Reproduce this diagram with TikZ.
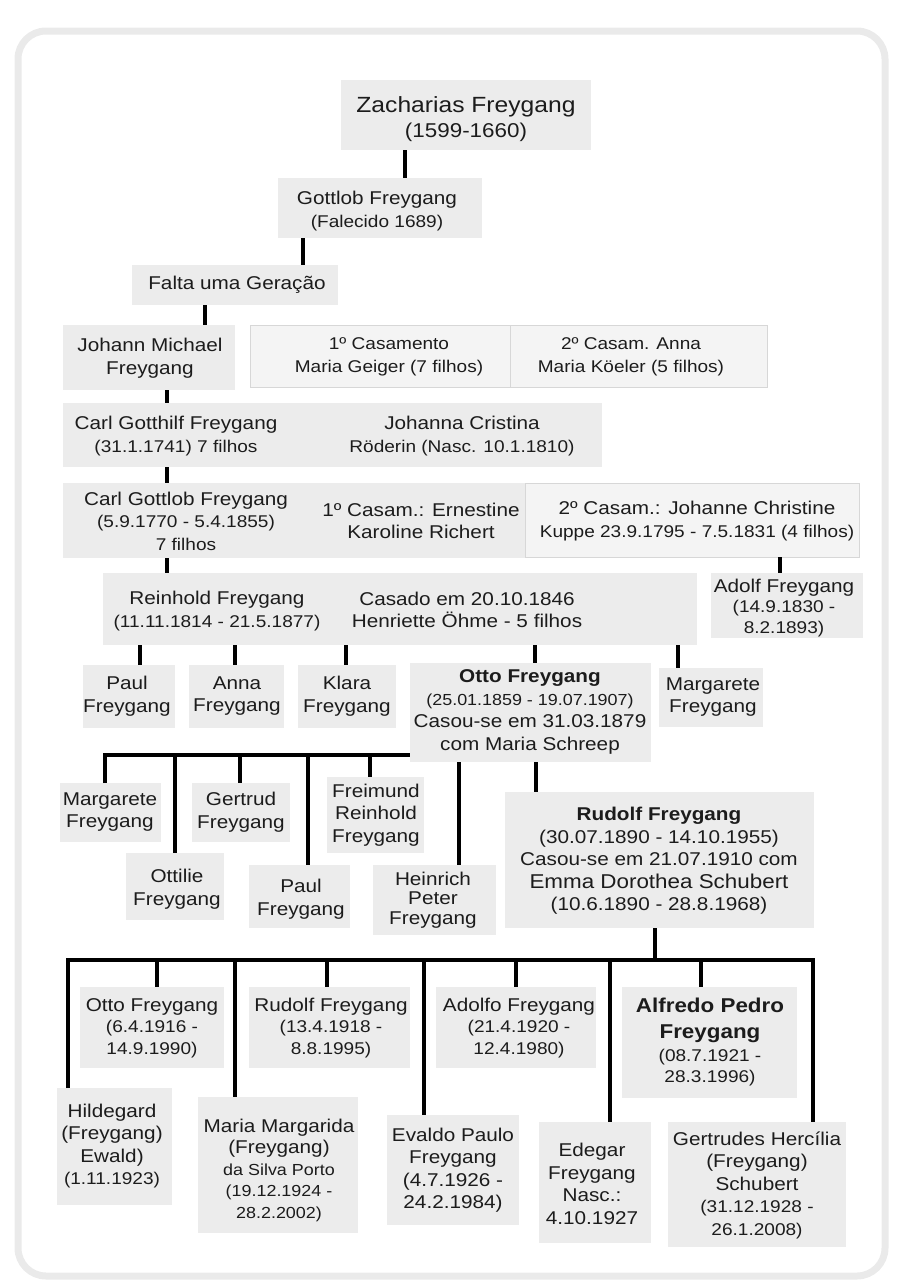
\documentclass[tikz,border=0pt]{standalone}
\usepackage{fontspec}
\setmainfont[FakeStretch=1.12]{Liberation Sans}
\definecolor{boxgray}{RGB}{236,236,236}
\definecolor{spfill}{RGB}{244,244,244}
\definecolor{spline}{RGB}{215,215,215}
\definecolor{framegray}{RGB}{234,234,234}
\definecolor{ink}{RGB}{28,28,28}
\newcommand\nm{\fontsize{18.5}{22.5}\selectfont}
\newcommand\dt{\fontsize{17}{22.5}\selectfont}
\newcommand\sm{\fontsize{16}{22.5}\selectfont}
\tikzset{
  box/.style={fill=boxgray, draw=none, inner sep=0pt, outer sep=0pt},
  spbox/.style={fill=spfill, draw=spline, line width=0.8pt, inner sep=0pt, outer sep=0pt},
  txt/.style={align=center, inner sep=0pt, text=ink, font=\nm},
  conn/.style={draw=black, line width=4pt},
  frame/.style={draw=framegray, line width=7pt, rounded corners=28pt},
}
% style, name, x1, y1, x2, y2, text-x, text-y, text
\newcommand\person[9]{%
  \node[#1, minimum width={#5-#3}, minimum height={#6-#4}] (#2) at ({(#3+#5)/2},{(#4+#6)/2}) {};
  \node[txt] (#2t) at (#7,#8) {#9};}
\begin{document}
\begin{tikzpicture}[x=1pt,y=-1pt]
\useasboundingbox (0,0) rectangle (899,1285);
\draw[frame] (18,31) rectangle (885,1276);

% --- upper generations
\person{box}{zach}{341}{80}{591}{150}{466}{119}{{\fontsize{22}{25}\selectfont Zacharias Freygang}\\[2pt]{\fontsize{20}{25}\selectfont (1599-1660)}}
\person{box}{gott}{278}{178}{482}{238}{377}{211}{Gottlob Freygang\\{\dt (Falecido 1689)}}
\person{box}{falta}{132}{265}{338}{305}{237}{285}{Falta uma Geração}
\person{box}{jm}{63}{325}{235}{390}{150}{358}{Johann Michael\\Freygang}
\person{spbox}{cas1}{250}{325}{510}{387}{389}{357}{{\dt 1º Casamento}\\{\dt Maria Geiger (7 filhos)}}
\person{spbox}{cas2}{510}{325}{767}{387}{631}{357}{{\dt 2º Casam. Anna}\\{\dt Maria Köeler (5 filhos)}}
\person{box}{cgf}{63}{403}{321}{467}{176}{436}{Carl Gotthilf Freygang\\{\dt (31.1.1741) 7 filhos}}
\person{box}{joh}{321}{403}{602}{467}{462}{436}{Johanna Cristina\\{\dt Röderin (Nasc. 10.1.1810)}}
\person{box}{cgl}{63}{483}{321}{558}{186}{521}{Carl Gottlob Freygang\\{\dt (5.9.1770 - 5.4.1855)}\\{\dt 7 filhos}}
\person{box}{cas3}{321}{483}{525}{558}{421}{521}{1º Casam.: Ernestine\\Karoline Richert}
\person{spbox}{cas4}{525}{483}{859}{557}{697}{521}{2º Casam.: Johanne Christine\\{\dt Kuppe 23.9.1795 - 7.5.1831 (4 filhos)}}
\person{box}{rein}{103}{573}{324}{645}{217}{611}{Reinhold Freygang\\{\dt (11.11.1814 - 21.5.1877)}}
\person{box}{casado}{324}{573}{697}{645}{467}{610}{Casado em 20.10.1846\\Henriette Öhme - 5 filhos}
\person{box}{adolf}{711}{573}{863}{638}{784}{608}{Adolf Freygang\\[-2pt]{\dt (14.9.1830 -}\\[-2pt]{\dt 8.2.1893)}}

% --- children of Reinhold
\person{box}{paulA}{83}{665}{175}{728}{127}{696}{Paul\\Freygang}
\person{box}{anna}{189}{665}{284}{728}{237}{696}{Anna\\Freygang}
\person{box}{klara}{298}{665}{396}{728}{347}{696}{Klara\\Freygang}
\person{box}{otto}{410}{663}{651}{762}{530}{712}{\textbf{Otto Freygang}\\{\sm (25.01.1859 - 19.07.1907)}\\Casou-se em 31.03.1879\\com Maria Schreep}
\person{box}{margA}{659}{668}{763}{727}{713}{697}{Margarete\\Freygang}

% --- children of Otto
\person{box}{margB}{60}{783}{161}{842}{110}{812}{Margarete\\Freygang}
\person{box}{ottilie}{126}{853}{224}{920}{177}{889}{Ottilie\\Freygang}
\person{box}{gertrud}{192}{783}{290}{842}{241}{812}{Gertrud\\Freygang}
\person{box}{paulB}{249}{865}{350}{928}{301}{899}{Paul\\Freygang}
\person{box}{freimund}{327}{777}{424}{853}{376}{815}{Freimund\\Reinhold\\Freygang}
\person{box}{heinrich}{373}{865}{496}{935}{433}{900}{Heinrich\\[-3pt]Peter\\[-3pt]Freygang}
\person{box}{rud}{505}{792}{814}{928}{659}{861}{\textbf{Rudolf Freygang}\\(30.07.1890 - 14.10.1955)\\Casou-se em 21.07.1910 com\\{\fontsize{20}{22.5}\selectfont Emma Dorothea Schubert}\\(10.6.1890 - 28.8.1968)}

% --- children of Rudolf
\person{box}{ottoC}{80}{987}{224}{1068}{152}{1028}{Otto Freygang\\[-1pt]{\dt (6.4.1916 -}\\[-1pt]{\dt 14.9.1990)}}
\person{box}{rudC}{249}{987}{410}{1068}{331}{1028}{Rudolf Freygang\\[-1pt]{\dt (13.4.1918 -}\\[-1pt]{\dt 8.8.1995)}}
\person{box}{adolfo}{436}{987}{596}{1068}{519}{1028}{Adolfo Freygang\\[-1pt]{\dt (21.4.1920 -}\\[-1pt]{\dt 12.4.1980)}}
\person{box}{alfredo}{622}{987}{797}{1098}{710}{1042}{{\bfseries\fontsize{20}{22.5}\selectfont Alfredo Pedro}\\[4pt]{\bfseries\fontsize{20}{22.5}\selectfont Freygang}\\{\dt (08.7.1921 -}\\[-1pt]{\dt 28.3.1996)}}
\person{box}{hild}{57}{1088}{172}{1205}{112}{1146}{Hildegard\\(Freygang)\\Ewald)\\{\dt (1.11.1923)}}
\person{box}{maria}{198}{1097}{358}{1233}{279}{1170}{Maria Margarida\\[-1pt](Freygang)\\[-1pt]{\sm da Silva Porto}\\[-1pt]{\sm (19.12.1924 -}\\[-1pt]{\sm 28.2.2002)}}
\person{box}{evaldo}{387}{1115}{519}{1225}{453}{1170}{Evaldo Paulo\\Freygang\\(4.7.1926 -\\24.2.1984)}
\person{box}{edegar}{539}{1122}{651}{1243}{592}{1184}{Edegar\\Freygang\\Nasc.:\\4.10.1927}
\person{box}{gert}{668}{1122}{846}{1247}{757}{1185}{Gertrudes Hercília\\(Freygang)\\Schubert\\{\dt (31.12.1928 -}\\{\dt 26.1.2008)}}

% --- connectors, upper part
\draw[conn] (zach.south -| 405,0) -- (gott.north -| 405,0);
\draw[conn] (gott.south -| 303,0) -- (falta.north -| 303,0);
\draw[conn] (falta.south -| 205,0) -- (jm.north -| 205,0);
\draw[conn] (jm.south -| 167,0) -- (cgf.north -| 167,0);
\draw[conn] (cgf.south -| 167,0) -- (cgl.north -| 167,0);
\draw[conn] (cgl.south -| 167,0) -- (rein.north -| 167,0);
\draw[conn] (cas4.south -| 780,0) -- (adolf.north -| 780,0);

% --- Reinhold's children
\draw[conn] (rein.south -| 140,0) -- (paulA.north -| 140,0);
\draw[conn] (rein.south -| 235,0) -- (anna.north -| 235,0);
\draw[conn] (casado.south -| 346,0) -- (klara.north -| 346,0);
\draw[conn] (casado.south -| 535,0) -- (otto.north -| 535,0);
\draw[conn] (casado.south -| 678,0) -- (margA.north -| 678,0);

% --- Otto's children
\coordinate (busA) at (otto.west |- 0,755);
\draw[conn] (margB.north -| 105,0) |- (busA);
\draw[conn] (busA -| 175,0) -- (ottilie.north -| 175,0);
\draw[conn] (busA -| 240,0) -- (gertrud.north -| 240,0);
\draw[conn] (busA -| 308,0) -- (paulB.north -| 308,0);
\draw[conn] (busA -| 370,0) -- (freimund.north -| 370,0);
\draw[conn] (otto.south -| 459,0) -- (heinrich.north -| 459,0);
\draw[conn] (otto.south -| 536,0) -- (rud.north -| 536,0);

% --- Rudolf's children
\coordinate (busB) at (rud.south |- 0,960);
\draw[conn] (rud.south -| 655,0) -- (busB -| 655,0);
\draw[conn] (hild.north -| 68,0) |- (busB) -| (gert.north -| 813,0);
\draw[conn] (busB -| 157,0) -- (ottoC.north -| 157,0);
\draw[conn] (busB -| 235,0) -- (maria.north -| 235,0);
\draw[conn] (busB -| 327,0) -- (rudC.north -| 327,0);
\draw[conn] (busB -| 424,0) -- (evaldo.north -| 424,0);
\draw[conn] (busB -| 516,0) -- (adolfo.north -| 516,0);
\draw[conn] (busB -| 610,0) -- (edegar.north -| 610,0);
\draw[conn] (busB -| 701,0) -- (alfredo.north -| 701,0);
\end{tikzpicture}
\end{document}
